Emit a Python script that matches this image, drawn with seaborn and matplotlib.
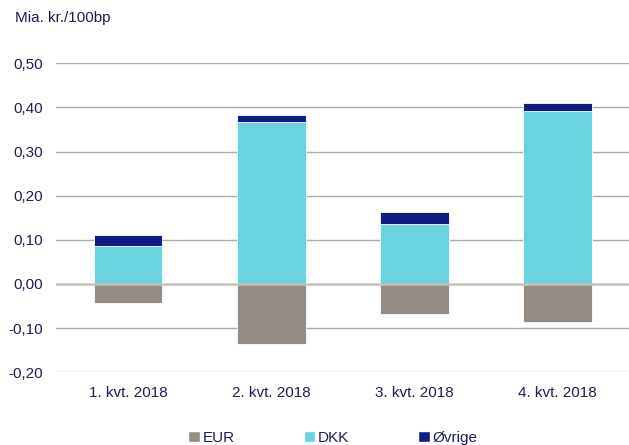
import numpy as np
import pandas as pd
import matplotlib
matplotlib.use('Agg')
import matplotlib.pyplot as plt
import seaborn as sns
from matplotlib.patches import Patch

# Data
quarters = ['1. kvt. 2018', '2. kvt. 2018', '3. kvt. 2018', '4. kvt. 2018']
eur = [-0.042, -0.137, -0.067, -0.087]
dkk = [0.086, 0.366, 0.137, 0.392]
ovrige = [0.024, 0.017, 0.025, 0.017]
yticks = [-0.2, -0.1, 0.0, 0.1, 0.2, 0.3, 0.4, 0.5]

c_eur = '#958c85'
c_dkk = '#69d3df'
c_ovr = '#101d82'
txt = '#1c2050'

sns.set_style('white')
plt.rcParams['font.family'] = ['Liberation Sans', 'DejaVu Sans']
fs = 11

df = pd.DataFrame({'kvartal': quarters, 'EUR': eur, 'DKK': dkk, 'Øvrige': ovrige})
df['top'] = df['DKK'] + df['Øvrige']

fig = plt.figure(figsize=(6.29, 4.45), dpi=100)
ax = fig.add_axes([0.0898, 0.1634, 0.9102, 0.6944])

# grid behind bars
for y in yticks:
    if y != 0:
        ax.axhline(y, color='#ababab', lw=1.0, zorder=0)

bar_kw = dict(width=0.48, edgecolor='white', linewidth=0.6, ax=ax, zorder=2)
sns.barplot(data=df, x='kvartal', y='top', color=c_ovr, saturation=1, **bar_kw)
sns.barplot(data=df, x='kvartal', y='DKK', color=c_dkk, saturation=1, **bar_kw)
sns.barplot(data=df, x='kvartal', y='EUR', color=c_eur, saturation=1, **bar_kw)

ax.axhline(0, color='#c9c0b7', lw=1.8, zorder=3)

ax.set_xlim(-0.5, 3.5)
ax.set_ylim(-0.2, 0.5)
ax.set_yticks(yticks)
ax.set_yticklabels(['{:.2f}'.format(v).replace('.', ',') for v in yticks])
ax.set_xlabel('')
ax.set_ylabel('')
ax.tick_params(axis='both', length=0, labelsize=fs, labelcolor=txt, pad=10)
for s in ax.spines.values():
    s.set_visible(False)

fig.text(15 / 629, 1 - 18 / 445, 'Mia. kr./100bp', fontsize=fs, color=txt,
         ha='left', va='center')

handles = [Patch(facecolor=c_eur, label='EUR'),
           Patch(facecolor=c_dkk, label='DKK'),
           Patch(facecolor=c_ovr, label='Øvrige')]
leg = fig.legend(handles=handles, loc='center', bbox_to_anchor=(333 / 629, 7 / 445),
                 ncol=3, frameon=False, fontsize=fs, handlelength=0.75,
                 handleheight=0.75, handletextpad=0.2, columnspacing=4.5,
                 borderpad=0)
for t in leg.get_texts():
    t.set_color(txt)

fig.savefig('out.png', dpi=100)
